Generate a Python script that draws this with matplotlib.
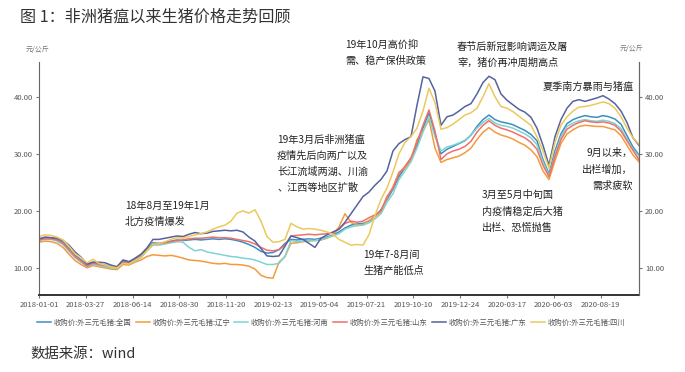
import numpy as np
import matplotlib
matplotlib.use("Agg")
import matplotlib.pyplot as plt

plt.rcParams['font.family'] = ['Noto Sans CJK SC', 'DejaVu Sans']

tick_labels = ["2018-01-01", "2018-03-27", "2018-06-14", "2018-08-30", "2018-11-20",
               "2019-02-13", "2019-05-04", "2019-07-21", "2019-10-10", "2019-12-24",
               "2020-03-17", "2020-06-03", "2020-08-19"]

names = ["收购价:外三元毛猪:全国", "收购价:外三元毛猪:辽宁", "收购价:外三元毛猪:河南",
         "收购价:外三元毛猪:山东", "收购价:外三元毛猪:广东", "收购价:外三元毛猪:四川"]
colors = ["#3d8ec0", "#f59a3c", "#7dd4d2", "#ef6f6c", "#56639f", "#ecc95c"]

quanguo = [15.0, 15.3, 15.3, 15.0, 14.5, 13.4, 12.2, 11.4, 10.5, 11.0,
           10.7, 10.5, 10.3, 10.2, 11.2, 10.9, 11.5, 12.1, 13.3, 14.4,
           14.3, 14.5, 14.7, 14.9, 14.8, 14.9, 15.0, 14.9, 15.0, 15.1,
           15.0, 15.1, 15.0, 14.8, 14.5, 14.1, 13.6, 12.9, 12.6, 12.7,
           13.2, 14.3, 15.0, 14.9, 15.0, 15.1, 15.0, 15.2, 15.4, 15.8,
           16.3, 17.0, 17.5, 17.7, 17.8, 18.2, 19.0, 20.2, 22.0, 23.8,
           26.0, 27.6, 29.2, 31.5, 34.5, 37.2, 33.5, 30.0, 30.8, 31.3,
           31.8, 32.3, 33.3, 34.8, 36.0, 36.8, 36.0, 35.6, 35.4, 35.1,
           34.6, 34.1, 33.4, 32.3, 29.0, 26.5, 30.5, 33.5, 35.3, 36.0,
           36.4, 36.7, 36.5, 36.4, 36.7, 36.5, 36.1, 35.2, 33.2, 31.2, 29.8]

liaoning = [14.5, 14.7, 14.6, 14.3, 13.6, 12.4, 11.3, 10.6, 10.0, 10.4,
            10.2, 10.0, 9.8, 9.7, 10.6, 10.5, 11.0, 11.4, 12.0, 12.3,
            12.2, 12.1, 12.2, 12.0, 11.7, 11.4, 11.3, 11.2, 11.0, 10.8,
            10.7, 10.8, 10.6, 10.6, 10.5, 10.3, 9.8, 8.7, 8.3, 8.2,
            11.0, 12.0, 14.3, 14.4, 14.6, 14.7, 14.8, 14.9, 15.2, 15.8,
            17.2, 19.5, 18.0, 17.5, 17.6, 18.3, 19.0, 19.8, 22.3, 24.2,
            26.8, 27.5, 28.8, 32.5, 34.0, 36.0, 31.0, 28.5, 29.0, 29.3,
            29.6, 30.2, 31.0, 32.5, 33.8, 34.6, 33.8, 33.3, 33.0, 32.6,
            32.0, 31.5, 30.7, 29.5, 27.0, 25.5, 28.8, 31.8, 33.5, 34.2,
            34.8, 35.0, 34.9, 34.8, 34.8, 34.5, 34.2, 33.2, 31.5, 29.8, 28.6]

henan = [14.8, 15.0, 15.0, 14.7, 14.1, 12.9, 11.8, 11.0, 10.2, 10.6,
         10.4, 10.2, 10.0, 9.9, 10.9, 10.7, 11.2, 11.8, 13.0, 14.0,
         14.0, 14.2, 14.4, 14.6, 14.5, 13.6, 13.0, 13.2, 12.8, 12.6,
         12.4, 12.2, 12.0, 11.9, 11.7, 11.6, 11.4, 11.0, 10.6, 10.6,
         10.8, 12.0, 14.8, 14.6, 14.7, 14.8, 14.8, 15.0, 15.3, 15.6,
         16.0, 16.8, 17.2, 17.4, 17.5, 17.9, 18.6, 19.5, 21.5, 23.0,
         25.5, 27.0, 28.6, 31.0, 33.8, 36.5, 33.0, 30.5, 31.2, 31.5,
         31.9, 32.4, 33.3, 34.5, 35.5, 36.2, 35.4, 35.0, 34.8, 34.5,
         34.0, 33.5, 32.8, 31.6, 28.6, 26.2, 29.8, 33.0, 34.8, 35.4,
         35.8, 36.0, 35.8, 35.7, 35.9, 35.7, 35.3, 34.4, 32.6, 30.8, 29.6]

shandong = [14.9, 15.1, 15.1, 14.9, 14.3, 13.2, 12.0, 11.2, 10.3, 10.8,
            10.6, 10.4, 10.2, 10.1, 11.0, 10.8, 11.4, 12.0, 13.1, 14.2,
            14.2, 14.4, 14.6, 14.8, 14.9, 15.1, 15.2, 15.2, 15.3, 15.4,
            15.3, 15.3, 15.2, 15.0, 14.8, 14.6, 14.2, 13.6, 13.1, 13.0,
            13.2, 14.0, 15.6, 15.7, 15.8, 15.9, 15.8, 15.9, 16.0, 16.1,
            16.8, 17.8, 18.2, 18.0, 18.2, 18.8, 19.3, 20.0, 22.5, 24.0,
            26.5, 27.8, 29.3, 32.0, 35.0, 37.7, 34.0, 29.0, 30.0, 30.5,
            30.8, 31.3, 32.2, 33.8, 35.0, 35.8, 35.0, 34.5, 34.2, 33.8,
            33.3, 32.8, 32.0, 30.8, 28.0, 26.0, 29.5, 32.5, 34.3, 35.0,
            35.5, 35.8, 35.6, 35.5, 35.6, 35.4, 35.0, 34.0, 32.3, 30.6, 29.0]

guangdong = [15.1, 15.4, 15.3, 15.2, 14.8, 14.0, 12.8, 11.9, 10.7, 11.0,
             11.0, 10.9, 10.5, 10.2, 11.4, 11.1, 11.7, 12.4, 13.5, 15.0,
             15.0, 15.2, 15.4, 15.6, 15.5, 15.9, 16.2, 16.0, 16.1, 16.4,
             16.5, 16.6, 16.5, 16.6, 16.3, 15.4, 14.7, 13.4, 12.1, 12.0,
             12.1, 13.8, 15.6, 15.3, 15.0, 14.3, 13.6, 15.2, 15.8, 16.3,
             16.8, 18.0, 19.5, 21.0, 22.5, 23.3, 24.5, 25.5, 27.0, 30.5,
             31.8, 32.5, 33.0, 38.5, 43.5, 43.2, 41.0, 35.0, 36.5, 36.8,
             37.5, 38.3, 38.8, 40.5, 42.5, 43.6, 43.0, 40.5, 39.4, 38.6,
             37.8, 37.3, 36.4, 34.5, 31.5, 28.0, 33.0, 36.0, 38.0, 39.2,
             39.5, 39.2, 39.5, 39.8, 40.2, 39.6, 38.8, 37.5, 35.5, 32.8, 31.5]

sichuan = [15.5, 15.8, 15.7, 15.4, 14.9, 13.8, 12.5, 11.8, 10.9, 11.5,
           10.8, 10.5, 10.2, 10.0, 10.8, 10.7, 11.3, 11.9, 13.0, 14.2,
           14.2, 14.6, 15.0, 15.3, 15.2, 15.5, 15.8, 16.0, 16.3, 16.8,
           17.2, 17.5, 18.2, 19.6, 20.0, 19.6, 20.2, 18.2, 15.5, 14.5,
           14.6, 15.0, 17.8, 17.2, 16.8, 16.9, 16.8, 16.6, 16.3, 15.9,
           15.0, 14.5, 14.0, 14.1, 14.0, 15.8, 19.2, 22.0, 24.0, 26.8,
           30.0, 32.0, 33.0, 34.5, 37.5, 41.5, 39.0, 34.3, 34.6, 35.2,
           36.0, 36.8, 37.2, 38.0, 40.0, 42.3, 40.0, 38.3, 38.0, 37.4,
           36.6, 35.8, 35.0, 33.0, 30.5, 27.5, 32.0, 35.0, 36.5, 37.5,
           38.2, 38.3, 38.5, 38.8, 39.1, 38.8, 38.0, 36.5, 34.5, 32.8, 31.7]

series = [quanguo, liaoning, henan, shandong, guangdong, sichuan]

fig = plt.figure(figsize=(6.85, 3.72), dpi=100)
ax = fig.add_axes([0.0569, 0.207, 0.8759, 0.6263])

x = np.arange(len(quanguo)) / 7.8
for vals, name, c in zip(series, names, colors):
    ax.plot(x, vals, color=c, lw=1.1, label=name)

ax.set_xlim(0, x[-1])
ax.set_ylim(5.25, 46.1)
ax.set_xticks(range(len(tick_labels)))
ax.set_xticklabels(tick_labels, fontsize=5.5, color='#555555')
ax.set_yticks([10, 20, 30, 40])
ax.set_yticklabels(["10.00", "20.00", "30.00", "40.00"], fontsize=5.5, color='#555555')
ax.tick_params(axis='both', length=2.5, width=0.8, colors='#777777', labelcolor='#555555', pad=2)
ax.spines['top'].set_visible(False)
ax.spines['left'].set_color('#666666')
ax.spines['right'].set_color('#666666')
ax.spines['bottom'].set_color('#333333')
ax.spines['bottom'].set_linewidth(1.4)

ax2 = ax.twinx()
ax2.set_ylim(ax.get_ylim())
ax2.set_yticks([10, 20, 30, 40])
ax2.set_yticklabels(["10.00", "20.00", "30.00", "40.00"], fontsize=5.5, color='#555555')
ax2.tick_params(axis='y', length=2.5, width=0.8, colors='#777777', labelcolor='#555555', pad=2)
for s in ['top', 'left', 'bottom']:
    ax2.spines[s].set_visible(False)
ax2.spines['right'].set_color('#666666')

# titles and units
fig.text(20/685, 1 - 17/372, "图 1：非洲猪瘟以来生猪价格走势回顾", fontsize=11.6, color='#333333', va='center', ha='left')
fig.text(38/685, 1 - 50/372, "元/公斤", fontsize=5, color='#777777', ha='center', va='center')
fig.text(632/685, 1 - 49/372, "元/公斤", fontsize=5, color='#777777', ha='center', va='center')
fig.text(30/685, 1 - 354/372, "数据来源：wind", fontsize=10.4, color='#333333', ha='left', va='center')

notes = [
    (125, 208, "18年8月至19年1月\n北方疫情爆发", 'left'),
    (277, 141, "19年3月后非洲猪瘟\n疫情先后向两广以及\n长江流域两湖、川渝\n、江西等地区扩散", 'left'),
    (345, 47, "19年10月高价抑\n需、稳产保供政策", 'left'),
    (457, 49, "春节后新冠影响调运及屠\n宰，猪价再冲周期高点", 'left'),
    (543, 88, "夏季南方暴雨与猪瘟", 'left'),
    (633, 155, "9月以来，\n出栏增加，\n需求疲软", 'right'),
    (482, 197, "3月至5月中旬国\n内疫情稳定后大猪\n出栏、恐慌抛售", 'left'),
    (363, 257, "19年7-8月间\n生猪产能低点", 'left'),
]
for px, py, txt, ha in notes:
    fig.text(px/685, 1 - (py - 7)/372, txt, fontsize=7.3, color='#222222',
             ha=ha, va='top', linespacing=1.75)

handles, labels = ax.get_legend_handles_labels()
fig.legend(handles, labels, loc='center', bbox_to_anchor=(331/685, 1 - 323/372), ncol=6,
           frameon=False, fontsize=5.3, handlelength=1.9, handletextpad=0.35,
           columnspacing=0.6, labelcolor='#555555')

fig.savefig("out.png", dpi=100)
